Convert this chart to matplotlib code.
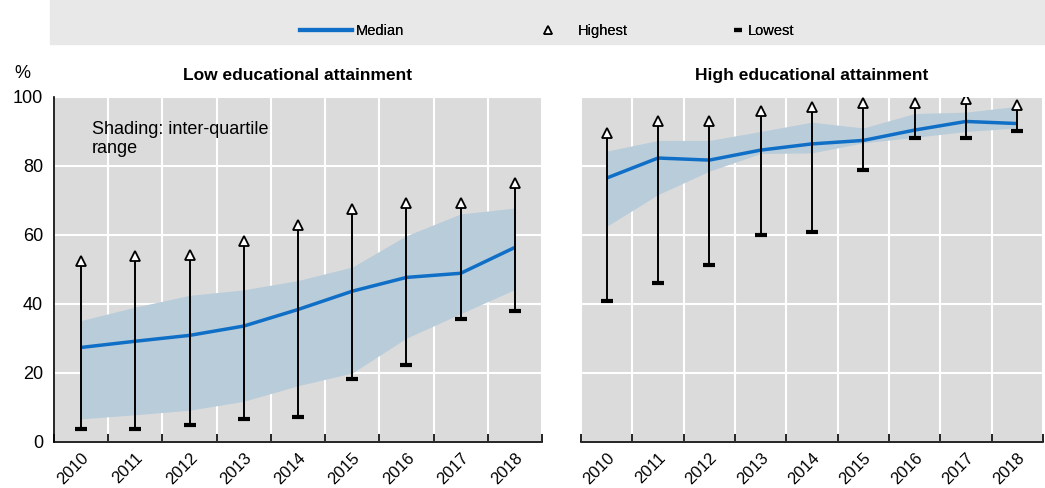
import numpy as np
import matplotlib
matplotlib.use("Agg")
import matplotlib.pyplot as plt
from matplotlib.lines import Line2D

plt.rcParams['font.family'] = ['Liberation Sans', 'DejaVu Sans']

# ── Data ──────────────────────────────────────────────────────────────────
years = ["2010", "2011", "2012", "2013", "2014", "2015", "2016", "2017", "2018"]

low_median = [27.4, 29.2, 30.9, 33.6, 38.4, 43.7, 47.7, 48.9, 56.4]
low_high = [52.5, 53.8, 54.3, 58.2, 63.0, 67.6, 69.3, 69.3, 75.0]
low_low = [3.8, 3.8, 5.0, 6.7, 7.2, 18.3, 22.3, 35.7, 38.0]
low_q3 = [35.2, 39.1, 42.5, 44.1, 46.8, 50.7, 59.8, 66.1, 67.8]
low_q1 = [6.7, 7.9, 9.2, 11.8, 16.3, 20.0, 30.1, 37.2, 44.2]

high_median = [76.5, 82.3, 81.7, 84.6, 86.4, 87.4, 90.4, 92.9, 92.3]
high_high = [89.6, 93.0, 93.0, 95.8, 97.1, 98.3, 98.3, 99.4, 97.6]
high_low = [40.8, 46.0, 51.2, 59.9, 61.0, 78.9, 88.1, 88.1, 90.0]
high_q3 = [84.3, 87.4, 87.4, 90.0, 92.7, 91.0, 95.2, 95.6, 97.3]
high_q1 = [62.5, 71.7, 78.5, 83.6, 83.8, 86.7, 88.3, 90.0, 91.0]

MEDIAN_C = "#0F6FC6"
SHADE_C = "#B9CCDA"
BG_C = "#DBDBDB"

fig = plt.figure(figsize=(10.45, 4.88), dpi=100)
ax1 = fig.add_axes([0.0517, 0.0943, 0.467, 0.707])
ax2 = fig.add_axes([0.556, 0.0943, 0.442, 0.707])


def draw_panel(ax, title, med, hi, lo, q3, q1, show_y):
    x = np.arange(len(years))
    ax.set_facecolor(BG_C)
    ax.fill_between(x, q1, q3, color=SHADE_C, lw=0, zorder=2)
    ax.plot(x, med, color=MEDIAN_C, lw=2.5, zorder=3, solid_capstyle="butt")
    ax.vlines(x, lo, hi, color="black", lw=1.4, zorder=4)
    ax.plot(x, lo, ls="none", marker="_", ms=8, mew=3, color="black", zorder=5)
    ax.plot(x, hi, ls="none", marker="^", ms=7, mfc="white", mec="black",
            mew=1.3, zorder=5)

    ax.set_xlim(-0.5, len(years) - 0.5)
    ax.set_ylim(0, 100)
    ax.set_yticks([0, 20, 40, 60, 80, 100])
    ax.set_xticks(x)
    ax.set_xticklabels(years, rotation=45, ha="right", rotation_mode="anchor",
                       fontsize=12)
    ax.set_xticks(np.arange(len(years) + 1) - 0.5, minor=True)
    ax.tick_params(axis="x", which="major", length=0, pad=6)
    ax.tick_params(axis="x", which="minor", direction="in", length=6, width=1.2)
    ax.tick_params(axis="y", length=0, labelsize=13, pad=8)
    if not show_y:
        ax.tick_params(axis="y", labelleft=False)

    ax.grid(True, axis="y", color="white", lw=1.5, zorder=1)
    ax.grid(True, axis="x", which="minor", color="white", lw=1.5, zorder=1)
    ax.set_axisbelow(True)
    for s in ["top", "right"]:
        ax.spines[s].set_visible(False)
    ax.spines["bottom"].set_linewidth(1.2)
    ax.spines["left"].set_linewidth(1.2)
    if not show_y:
        ax.spines["left"].set_visible(False)
    ax.set_title(title, fontsize=12.5, fontweight="bold", pad=12)


draw_panel(ax1, "Low educational attainment", low_median, low_high, low_low,
           low_q3, low_q1, True)
draw_panel(ax2, "High educational attainment", high_median, high_high, high_low,
           high_q3, high_q1, False)

ax1.text(0.078, 0.93, "Shading: inter-quartile\nrange", transform=ax1.transAxes,
         fontsize=13, va="top", ha="left", linespacing=1.15)
fig.text(0.021, 0.85, "%", fontsize=13, ha="center", va="center")

# ── Legend band ───────────────────────────────────────────────────────────
fig.patches.append(plt.Rectangle((0.048, 0.91), 0.952, 0.09,
                                 transform=fig.transFigure, color="#E8E8E8",
                                 zorder=0))
leg_items = [
    (Line2D([], [], color=MEDIAN_C, lw=3), "Median", 0.287, 3.6, 0.25),
    (Line2D([], [], ls="none", marker="^", ms=5.5, mfc="white", mec="black",
            mew=1.2), "Highest", 0.514, 1.5, 1.3),
    (Line2D([], [], ls="none", marker="_", ms=6, mew=3, color="black"),
     "Lowest", 0.699, 1.0, 0.2),
]
for h, lab, x0, hl, tp in leg_items:
    lg = fig.legend([h], [lab], loc="center left", bbox_to_anchor=(x0, 0.936),
                    frameon=False, fontsize=10.5, borderpad=0, borderaxespad=0,
                    handlelength=hl, handletextpad=tp)
    fig.add_artist(lg)

fig.savefig("out.png", dpi=100)
